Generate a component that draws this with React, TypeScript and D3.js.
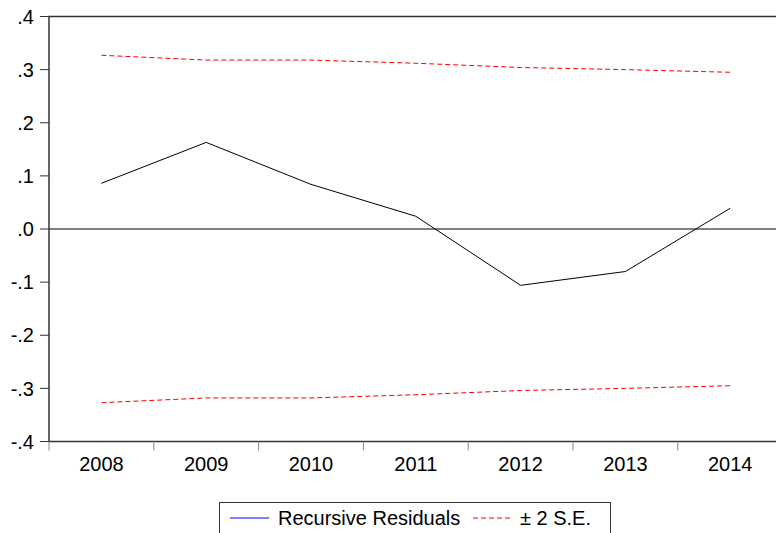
import React from "react";
import * as d3 from "d3";

const years = ["2008", "2009", "2010", "2011", "2012", "2013", "2014"];
const residuals = [0.086, 0.163, 0.084, 0.024, -0.106, -0.080, 0.039];
const upperSE = [0.327, 0.318, 0.318, 0.312, 0.304, 0.300, 0.295];
const lowerSE = [-0.327, -0.318, -0.318, -0.312, -0.304, -0.300, -0.295];
const yTicks = [0.4, 0.3, 0.2, 0.1, 0, -0.1, -0.2, -0.3, -0.4];
const yTickLabels = [".4", ".3", ".2", ".1", ".0", "-.1", "-.2", "-.3", "-.4"];

const W = 776, H = 533;
const L = 49, T = 16.5, R = 782.6, B = 441.5;

export default function App() {
  const x = d3.scaleBand<string>().domain(years).range([L, R]).paddingInner(0).paddingOuter(0);
  const y = d3.scaleLinear().domain([-0.4, 0.4]).range([B, T]);
  const cx = (i: number) => (x(years[i]) as number) + x.bandwidth() / 2;
  const line = d3.line<number>().x((_, i) => cx(i)).y((d) => y(d));
  const font = "'Liberation Sans', Arial, sans-serif";
  const fs = 20;
  return (
    <svg width={W} height={H} style={{ position: "absolute", left: 0, top: 0, background: "#fff" }}>
      <rect x={0} y={0} width={W} height={H} fill="#fff" />
      {/* zero line */}
      <line x1={L} x2={R} y1={y(0)} y2={y(0)} stroke="#000" strokeWidth={1} />
      <path d={line(upperSE) || ""} fill="none" stroke="#ff0000" strokeWidth={1} strokeDasharray="5,3" />
      <path d={line(lowerSE) || ""} fill="none" stroke="#ff0000" strokeWidth={1} strokeDasharray="5,3" />
      <path d={line(residuals) || ""} fill="none" stroke="#000" strokeWidth={1} />
      {/* frame */}
      <rect x={L} y={T} width={R - L} height={B - T} fill="none" stroke="#333" strokeWidth={1.5} />
      {/* y axis */}
      {yTicks.map((t, i) => (
        <g key={t}>
          <line x1={L - 9} x2={L} y1={y(t)} y2={y(t)} stroke="#333" strokeWidth={1} />
          <text x={34} y={y(t)} dy="0.36em" textAnchor="end" fontFamily={font} fontSize={fs} fill="#000">
            {yTickLabels[i]}
          </text>
        </g>
      ))}
      {/* x axis */}
      {years.map((yr, i) => (
        <g key={yr}>
          {i > 0 && (
            <line x1={x(yr) as number} x2={x(yr) as number} y1={B} y2={B + 9} stroke="#888" strokeWidth={1} />
          )}
          <text x={cx(i)} y={471} textAnchor="middle" fontFamily={font} fontSize={fs} fill="#000">
            {yr}
          </text>
        </g>
      ))}
      <line x1={L} x2={L} y1={B} y2={B + 9} stroke="#888" strokeWidth={1} />
      {/* legend */}
      <rect x={219.5} y={502.5} width={391} height={32} fill="#fff" stroke="#333" strokeWidth={1} />
      <line x1={230} x2={269} y1={518} y2={518} stroke="#0000ff" strokeWidth={1} />
      <text x={278} y={525} fontFamily={font} fontSize={fs} fill="#000">Recursive Residuals</text>
      <line x1={473} x2={513} y1={518} y2={518} stroke="#ff0000" strokeWidth={1} strokeDasharray="5,3" />
      <text x={520} y={525} fontFamily={font} fontSize={fs} fill="#000">± 2 S.E.</text>
    </svg>
  );
}
